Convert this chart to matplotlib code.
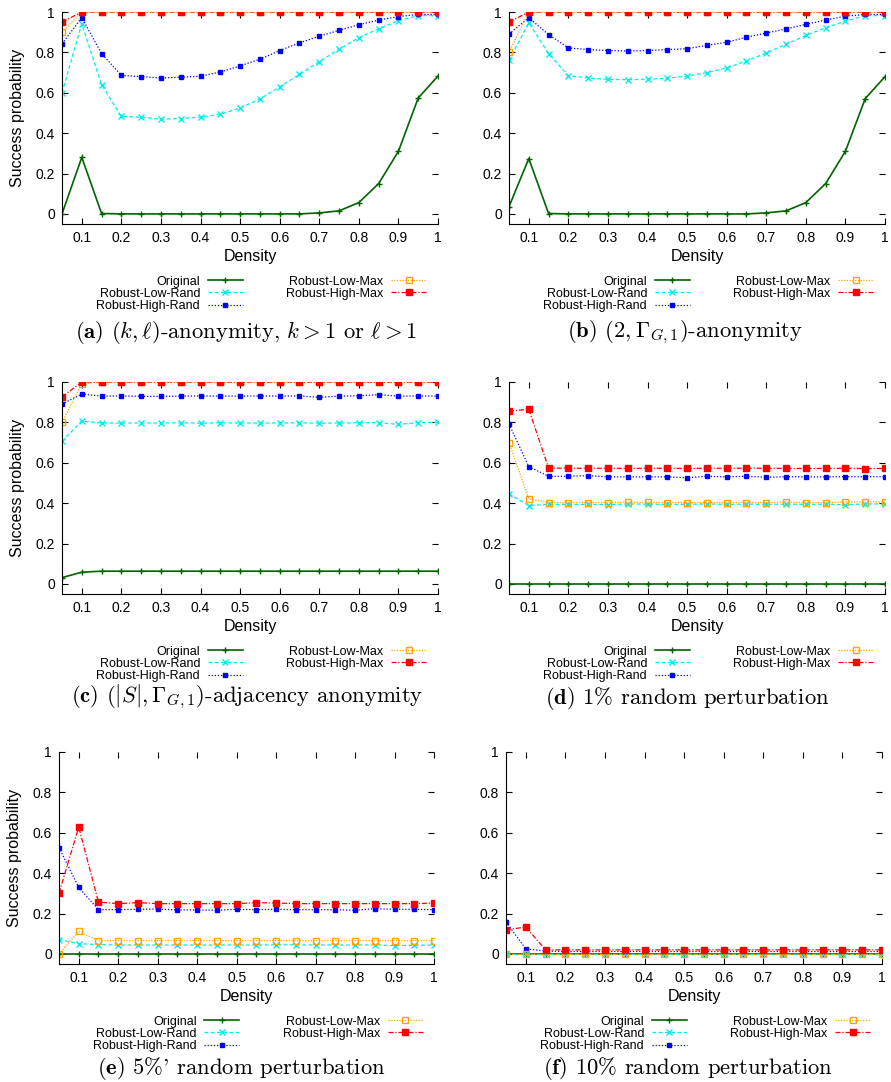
import matplotlib
matplotlib.use('Agg')
import matplotlib.pyplot as plt

plt.rcParams['font.family'] = ['Liberation Sans', 'DejaVu Sans']
plt.rcParams['mathtext.fontset'] = 'cm'

density = [0.05, 0.10, 0.15, 0.20, 0.25, 0.30, 0.35, 0.40, 0.45, 0.50,
           0.55, 0.60, 0.65, 0.70, 0.75, 0.80, 0.85, 0.90, 0.95, 1.00]

series_names = ['Original', 'Robust-Low-Rand', 'Robust-High-Rand',
                'Robust-Low-Max', 'Robust-High-Max']

# (a) (k,l)-anonymity
a_orig = [0.0, 0.28, 0.002, 0.0, 0.0, 0.0, 0.0, 0.0, 0.0, 0.0,
          0.0, 0.0, 0.0, 0.005, 0.015, 0.056, 0.15, 0.31, 0.574, 0.683]
a_low_rand = [0.60, 0.942, 0.64, 0.483, 0.479, 0.469, 0.472, 0.48, 0.493, 0.525,
              0.569, 0.629, 0.691, 0.754, 0.815, 0.873, 0.917, 0.957, 0.982, 0.982]
a_high_rand = [0.843, 0.972, 0.794, 0.686, 0.68, 0.673, 0.677, 0.682, 0.703, 0.733,
               0.766, 0.809, 0.847, 0.88, 0.909, 0.937, 0.96, 0.977, 0.988, 0.988]
a_low_max = [0.90] + [1.0] * 19
a_high_max = [0.95] + [1.0] * 19

# (b) (2, Gamma)-anonymity
b_orig = [0.036, 0.274, 0.002, 0.0, 0.0, 0.0, 0.0, 0.0, 0.0, 0.0,
          0.0, 0.0, 0.0, 0.005, 0.015, 0.056, 0.15, 0.31, 0.571, 0.68]
b_low_rand = [0.76, 0.946, 0.794, 0.685, 0.673, 0.667, 0.665, 0.667, 0.672, 0.682,
              0.70, 0.723, 0.757, 0.797, 0.84, 0.884, 0.922, 0.955, 0.982, 0.982]
b_high_rand = [0.891, 0.972, 0.888, 0.822, 0.814, 0.809, 0.807, 0.809, 0.814, 0.818,
               0.835, 0.85, 0.875, 0.896, 0.916, 0.939, 0.96, 0.979, 0.988, 0.988]
b_low_max = [0.80] + [1.0] * 19
b_high_max = [0.95] + [1.0] * 19

# (c) adjacency anonymity
c_orig = [0.031, 0.058] + [0.063] * 18
c_low_rand = [0.706, 0.807, 0.797, 0.797, 0.797, 0.797, 0.798, 0.796, 0.798, 0.797,
              0.797, 0.797, 0.798, 0.796, 0.797, 0.798, 0.799, 0.79, 0.799, 0.80]
c_high_rand = [0.891, 0.94, 0.93, 0.931, 0.929, 0.929, 0.93, 0.931, 0.93, 0.93,
               0.931, 0.93, 0.931, 0.924, 0.93, 0.932, 0.937, 0.93, 0.931, 0.93]
c_low_max = [0.80, 0.992] + [1.0] * 18
c_high_max = [0.926] + [1.0] * 19

# (d) 1% random perturbation
d_orig = [0.0] * 20
d_low_rand = [0.447, 0.388, 0.394, 0.394, 0.394, 0.393, 0.396, 0.395, 0.394, 0.394,
              0.396, 0.394, 0.395, 0.394, 0.395, 0.394, 0.395, 0.392, 0.396, 0.396]
d_low_max = [0.70, 0.422, 0.403, 0.403, 0.403, 0.403, 0.405, 0.404, 0.403, 0.402,
             0.403, 0.402, 0.403, 0.403, 0.406, 0.403, 0.403, 0.406, 0.406, 0.406]
d_high_rand = [0.792, 0.581, 0.533, 0.533, 0.536, 0.53, 0.53, 0.53, 0.53, 0.526,
               0.533, 0.53, 0.533, 0.528, 0.531, 0.53, 0.53, 0.531, 0.531, 0.531]
d_high_max = [0.856, 0.865, 0.574, 0.573, 0.573, 0.573, 0.572, 0.573, 0.573, 0.572,
              0.573, 0.573, 0.573, 0.573, 0.572, 0.572, 0.572, 0.573, 0.571, 0.572]

# (e) 5% random perturbation
e_orig = [0.0] * 20
e_low_rand = [0.071, 0.051, 0.046, 0.044, 0.044, 0.044, 0.044, 0.044, 0.044, 0.044,
              0.044, 0.045, 0.045, 0.044, 0.044, 0.044, 0.045, 0.041, 0.043, 0.044]
e_low_max = [0.0, 0.112] + [0.066] * 18
e_high_rand = [0.527, 0.329, 0.219, 0.219, 0.221, 0.222, 0.218, 0.218, 0.216, 0.221,
               0.219, 0.221, 0.219, 0.219, 0.219, 0.216, 0.224, 0.221, 0.221, 0.219]
e_high_max = [0.301, 0.628, 0.257, 0.249, 0.254, 0.249, 0.249, 0.249, 0.249, 0.249,
              0.254, 0.252, 0.249, 0.249, 0.249, 0.249, 0.249, 0.249, 0.249, 0.252]

# (f) 10% random perturbation
f_orig = [0.0] * 20
f_low_rand = [0.002] * 20
f_low_max = [0.0] * 20
f_high_rand = [0.158, 0.025, 0.014] + [0.012] * 17
f_high_max = [0.119, 0.133] + [0.02] * 18

captions = [
    r'$\mathbf{(a)}$ $(k,\ell)$-anonymity, $k>1$ or $\ell>1$',
    r'$\mathbf{(b)}$ $(2,\mathit{\Gamma}_{G,1})$-anonymity',
    r'$\mathbf{(c)}$ $(|S|,\mathit{\Gamma}_{G,1})$-adjacency anonymity',
    r'$\mathbf{(d)}$ 1% random perturbation',
    r"$\mathbf{(e)}$ 5%' random perturbation",
    r'$\mathbf{(f)}$ 10% random perturbation',
]

panels = [
    [a_orig, a_low_rand, a_high_rand, a_low_max, a_high_max],
    [b_orig, b_low_rand, b_high_rand, b_low_max, b_high_max],
    [c_orig, c_low_rand, c_high_rand, c_low_max, c_high_max],
    [d_orig, d_low_rand, d_high_rand, d_low_max, d_high_max],
    [e_orig, e_low_rand, e_high_rand, e_low_max, e_high_max],
    [f_orig, f_low_rand, f_high_rand, f_low_max, f_high_max],
]

# line styles: color, linestyle, marker, markerfacecolor, linewidth
styles = [
    ('#006400', '-', '+', '#006400', 1.2),
    ('#00eeee', (0, (3, 2)), 'x', '#00eeee', 0.9),
    ('#0000ff', (0, (1, 1.5)), 's', '#0000ff', 0.9),
    ('#ffa500', (0, (1, 1.2)), 's', 'none', 0.9),
    ('#ff0000', (0, (4, 1.5, 1, 1.5)), 's', '#ff0000', 0.9),
]
msizes = [5, 4.5, 3.3, 4.2, 4.0]

W, H = 891.0, 1082.0
# axes boxes in pixels: left, top, right, bottom
boxes = [
    (62, 12, 438, 224), (509, 12, 885, 224),
    (62, 382, 438, 594), (509, 382, 885, 594),
    (59, 752, 434, 964), (506, 752, 882, 964),
]
cap_pos = [(246, 332), (685, 332), (247, 697), (687, 699), (241, 1069), (688, 1069)]

fig = plt.figure(figsize=(W / 100, H / 100), dpi=100)

for i, data in enumerate(panels):
    l, t, r, b = boxes[i]
    ax = fig.add_axes([l / W, 1 - b / H, (r - l) / W, (b - t) / H])
    for name, ys, st, ms in zip(series_names, data, styles, msizes):
        col, ls, mk, mfc, lw = st
        ax.plot(density, ys, color=col, linestyle=ls, linewidth=lw, marker=mk,
                markersize=ms, markerfacecolor=mfc, markeredgecolor=col,
                markeredgewidth=1.0, label=name)
    ax.set_xlim(0.05, 1.0)
    ax.set_ylim(-0.05, 1.0)
    ax.set_xticks([0.1, 0.2, 0.3, 0.4, 0.5, 0.6, 0.7, 0.8, 0.9, 1.0])
    ax.set_xticklabels(['0.1', '0.2', '0.3', '0.4', '0.5', '0.6', '0.7', '0.8', '0.9', '1'])
    ax.set_yticks([0, 0.2, 0.4, 0.6, 0.8, 1.0])
    ax.set_yticklabels(['0', '0.2', '0.4', '0.6', '0.8', '1'])
    ax.spines['top'].set_visible(False)
    ax.spines['right'].set_visible(False)
    ax.tick_params(direction='in', top=True, right=True, length=4, width=0.8,
                   labelsize=10, pad=5)
    ax.set_xlabel('Density', fontsize=11.5, labelpad=3)
    if i % 2 == 0:
        ax.set_ylabel('Success probability', fontsize=11.5, labelpad=8)
    ax.legend(loc='upper center', bbox_to_anchor=(0.53, -0.19), ncol=2,
              markerfirst=False, frameon=False, fontsize=9, handlelength=2.8,
              handletextpad=0.6, columnspacing=3.5, labelspacing=0.02)
    cx, cy = cap_pos[i]
    fig.text(cx / W, 1 - cy / H, captions[i], ha='center', va='center',
             fontsize=16.3, family='cmr10')

fig.savefig('out.png', dpi=100)
